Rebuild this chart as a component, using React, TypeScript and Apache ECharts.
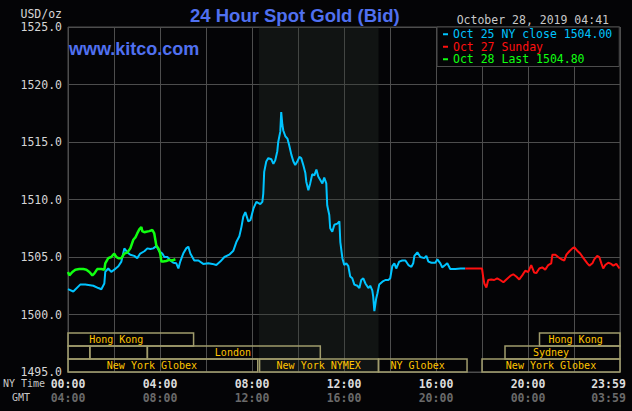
import React, { useEffect, useRef } from "react";
import * as echarts from "echarts";

// ---- axes ----
const yMin = 1495;
const yMax = 1525;
const yStep = 5;
const xMin = 0;
const xMax = 24;
const xStep = 2;
const nyTickLabels = ["00:00", "04:00", "08:00", "12:00", "16:00", "20:00", "23:59"];
const gmtTickLabels = ["04:00", "08:00", "12:00", "16:00", "20:00", "00:00", "03:59"];

// ---- texts ----
const titleText = "24 Hour Spot Gold (Bid)";
const siteText = "www.kitco.com";
const dateText = "October 28, 2019 04:41";
const unitText = "USD/oz";
const legendLabels = ["Oct 25 NY close 1504.00", "Oct 27 Sunday", "Oct 28 Last 1504.80"];

// ---- series: [hour (NY time), price] ----
const oct25Points = [
  [0.0, 1502.2], [0.23, 1502.0], [0.53, 1502.6], [0.75, 1502.6], [1.1, 1502.5], [1.32, 1502.3],
  [1.45, 1502.2], [1.58, 1502.7], [1.62, 1503.7], [1.75, 1504.0], [1.88, 1503.7], [2.01, 1503.9],
  [2.19, 1504.2], [2.32, 1504.6], [2.45, 1505.75], [2.58, 1505.4], [2.71, 1505.2], [2.88, 1505.1],
  [3.01, 1504.9], [3.14, 1505.3], [3.32, 1505.5], [3.45, 1505.75], [3.58, 1505.7], [3.71, 1505.75],
  [3.84, 1505.95], [3.97, 1505.5], [4.1, 1505.3], [4.19, 1505.0], [4.32, 1505.0], [4.45, 1504.7],
  [4.58, 1504.5], [4.71, 1504.45], [4.8, 1504.0], [4.88, 1504.6], [5.01, 1505.3], [5.14, 1505.75],
  [5.23, 1505.9], [5.32, 1505.3], [5.49, 1504.7], [5.67, 1504.7], [5.88, 1504.4], [6.1, 1504.45],
  [6.28, 1504.4], [6.45, 1504.3], [6.62, 1504.6], [6.8, 1505.0], [7.01, 1505.2], [7.19, 1505.55],
  [7.32, 1506.3], [7.45, 1506.8], [7.54, 1507.6], [7.62, 1508.5], [7.71, 1508.9], [7.84, 1508.1],
  [7.93, 1508.2], [8.06, 1509.2], [8.19, 1509.8], [8.36, 1509.6], [8.45, 1509.8], [8.49, 1510.5],
  [8.53, 1512.4], [8.62, 1513.3], [8.71, 1513.6], [8.84, 1513.5], [8.93, 1513.1], [9.01, 1513.4],
  [9.1, 1514.2], [9.14, 1515.0], [9.23, 1515.9], [9.27, 1517.6], [9.32, 1516.5], [9.36, 1516.0],
  [9.45, 1515.5], [9.54, 1515.3], [9.62, 1514.7], [9.71, 1513.9], [9.8, 1513.3], [9.88, 1513.0],
  [9.97, 1513.3], [10.06, 1513.7], [10.14, 1513.6], [10.23, 1513.0], [10.32, 1512.3], [10.36, 1511.55],
  [10.45, 1510.8], [10.53, 1511.4], [10.62, 1512.2], [10.71, 1512.1], [10.8, 1512.6], [10.88, 1512.0],
  [10.97, 1511.7], [11.06, 1511.4], [11.14, 1511.9], [11.23, 1511.4], [11.27, 1509.5], [11.36, 1508.65],
  [11.4, 1507.5], [11.49, 1507.2], [11.58, 1507.8], [11.71, 1507.9], [11.8, 1508.1], [11.84, 1506.3],
  [11.93, 1504.9], [12.01, 1504.3], [12.1, 1504.45], [12.19, 1504.2], [12.27, 1503.3], [12.36, 1503.15],
  [12.45, 1502.6], [12.58, 1502.5], [12.67, 1502.3], [12.75, 1503.0], [12.84, 1503.15], [12.93, 1502.7],
  [13.06, 1502.3], [13.14, 1502.5], [13.23, 1502.1], [13.27, 1501.55], [13.32, 1500.3], [13.4, 1501.4],
  [13.45, 1501.8], [13.53, 1502.6], [13.67, 1502.85], [13.8, 1503.0], [13.93, 1503.0], [14.01, 1503.15],
  [14.1, 1504.2], [14.19, 1504.45], [14.27, 1504.0], [14.4, 1504.6], [14.53, 1504.7], [14.67, 1504.7],
  [14.8, 1504.3], [14.93, 1504.15], [15.01, 1504.45], [15.06, 1505.1], [15.19, 1505.4], [15.32, 1505.0],
  [15.49, 1504.9], [15.58, 1505.1], [15.67, 1504.6], [15.8, 1504.5], [15.97, 1504.5], [16.06, 1504.8],
  [16.19, 1504.45], [16.27, 1504.1], [16.4, 1504.3], [16.49, 1504.45], [16.62, 1503.95], [16.84, 1503.95],
  [17.07, 1504.0], [17.27, 1504.0],
];

const oct27Points = [
  [17.27, 1504.0], [18.0, 1504.0], [18.05, 1503.3], [18.1, 1502.7], [18.19, 1502.35], [18.27, 1503.0],
  [18.4, 1503.05], [18.53, 1503.0], [18.66, 1503.15], [18.79, 1503.0], [18.93, 1502.8], [19.06, 1503.05],
  [19.23, 1503.35], [19.36, 1503.5], [19.49, 1503.3], [19.62, 1503.05], [19.75, 1503.4], [19.88, 1503.8],
  [20.01, 1503.7], [20.14, 1504.3], [20.27, 1503.65], [20.36, 1503.6], [20.49, 1504.0], [20.62, 1504.1],
  [20.75, 1503.9], [20.88, 1504.3], [21.01, 1504.45], [21.06, 1505.2], [21.19, 1505.2], [21.31, 1505.0],
  [21.45, 1504.8], [21.58, 1504.7], [21.67, 1505.2], [21.8, 1505.5], [21.93, 1505.75], [22.01, 1505.85],
  [22.14, 1505.55], [22.27, 1505.3], [22.41, 1504.9], [22.58, 1504.45], [22.67, 1504.25], [22.8, 1504.45],
  [22.88, 1504.8], [23.01, 1505.1], [23.1, 1505.0], [23.19, 1504.45], [23.27, 1504.0], [23.36, 1504.3],
  [23.49, 1504.5], [23.62, 1504.4], [23.71, 1504.25], [23.84, 1504.4], [23.98, 1504.0],
];

const oct28Points = [
  [0.0, 1503.7], [0.06, 1503.4], [0.19, 1503.7], [0.32, 1503.9], [0.49, 1503.95], [0.67, 1503.95],
  [0.8, 1503.9], [0.93, 1503.7], [1.06, 1503.4], [1.14, 1503.55], [1.27, 1503.95], [1.45, 1503.95],
  [1.58, 1503.9], [1.62, 1504.45], [1.75, 1504.9], [1.88, 1505.0], [2.01, 1505.3], [2.1, 1505.0],
  [2.19, 1504.9], [2.32, 1504.9], [2.45, 1505.3], [2.58, 1505.4], [2.71, 1505.75], [2.84, 1506.5],
  [2.93, 1506.7], [3.01, 1507.05], [3.1, 1507.4], [3.19, 1507.6], [3.23, 1507.25], [3.32, 1507.15],
  [3.4, 1507.2], [3.53, 1507.25], [3.67, 1507.35], [3.75, 1507.05], [3.84, 1506.0], [3.93, 1505.75],
  [4.01, 1505.3], [4.06, 1504.6], [4.14, 1504.6], [4.27, 1504.65], [4.4, 1504.75], [4.53, 1504.7],
  [4.67, 1504.8],
];

// ---- NYMEX floor hours (shaded) ----
const nymexHours = [8.3, 13.5];

// ---- trading session boxes ----
const sessionNames = ["New York Globex", "New York NYMEX", "NY Globex", "New York Globex", "", "", "London", "Sydney", "Hong Kong", "Hong Kong"];
const sessionStart = [0, 8.33, 13.5, 18, 0, 0.95, 3.45, 19, 0, 20.5];
const sessionEnd = [8.25, 13.5, 17.35, 24, 0.95, 3.45, 10.97, 24, 5.46, 24];
const sessionRow = [0, 0, 0, 0, 1, 1, 1, 1, 2, 2];
const sessionLabelAt = [3.65, 10.9, 15.2, 21.0, 0, 0, 7.17, 21.0, 2.1, 22.07];

const COLORS = ["#00C4FF", "#FF1010", "#10FF10"];
const MONO = "'DejaVu Sans Mono', 'Liberation Mono', monospace";
const SANS = "'Liberation Sans', Arial, sans-serif";

export default function App() {
  const ref = useRef<HTMLDivElement>(null);

  useEffect(() => {
    document.body.style.margin = "0";
    document.body.style.background = "#040406";
    if (!ref.current) return;
    const chart = echarts.init(ref.current, undefined, { renderer: "svg" });

    const tickIndex = (v: number) => Math.round(v / 4);

    const option: any = {
      animation: false,
      backgroundColor: "#040406",
      title: {
        text: titleText,
        left: 190,
        top: 5,
        padding: 0,
        textStyle: { color: "#5070F0", fontFamily: SANS, fontSize: 18.5, fontWeight: "bold", lineHeight: 20 },
      },
      legend: {
        left: 437,
        top: 27,
        orient: "vertical",
        padding: [1, 7, 1, 6],
        itemGap: 0,
        itemWidth: 5,
        itemHeight: 2,
        icon: "rect",
        selectedMode: false,
        backgroundColor: "#040406",
        borderColor: "#4d4d4d",
        borderWidth: 1,
        textStyle: { fontFamily: MONO, fontSize: 11.5, lineHeight: 12.5 },
        data: legendLabels.map((n, i) => ({ name: n, textStyle: { color: COLORS[i] } })),
      },
      grid: {
        left: 68,
        right: 12,
        top: 27,
        bottom: 39,
        show: true,
        containLabel: false,
        outerBoundsMode: "none",
        borderColor: "#4d4d4d",
        borderWidth: 1,
        backgroundColor: "transparent",
      },
      xAxis: [
        {
          type: "value",
          min: xMin,
          max: xMax,
          interval: xStep,
          axisLine: { show: false },
          axisTick: { show: false },
          splitLine: { show: true, lineStyle: { color: "#4d4d4d", width: 1 } },
          axisLabel: {
            margin: 5,
            showMaxLabel: true,
            showMinLabel: true,
            hideOverlap: false,
            formatter: (v: number) => {
              if (v % 4 !== 0) return "";
              const s = nyTickLabels[tickIndex(v)];
              return v === xMax ? "{last|" + s + "}" : "{n|" + s + "}";
            },
            rich: {
              n: { color: "#dcdcdc", fontFamily: MONO, fontSize: 11.5, fontWeight: "bold", lineHeight: 13 },
              last: { color: "#dcdcdc", fontFamily: MONO, fontSize: 11.5, fontWeight: "bold", lineHeight: 13, padding: [0, 23, 0, 0] },
            },
          },
        },
        {
          type: "value",
          position: "bottom",
          offset: 14,
          min: xMin,
          max: xMax,
          interval: xStep,
          axisLine: { show: false },
          axisTick: { show: false },
          splitLine: { show: false },
          axisLabel: {
            margin: 5,
            showMaxLabel: true,
            showMinLabel: true,
            hideOverlap: false,
            formatter: (v: number) => {
              if (v % 4 !== 0) return "";
              const s = gmtTickLabels[tickIndex(v)];
              return v === xMax ? "{last|" + s + "}" : "{n|" + s + "}";
            },
            rich: {
              n: { color: "#6a6a6a", fontFamily: MONO, fontSize: 11.5, fontWeight: "bold", lineHeight: 13 },
              last: { color: "#6a6a6a", fontFamily: MONO, fontSize: 11.5, fontWeight: "bold", lineHeight: 13, padding: [0, 23, 0, 0] },
            },
          },
        },
      ],
      yAxis: {
        type: "value",
        min: yMin,
        max: yMax,
        interval: yStep,
        axisLine: { show: false },
        axisTick: { show: false },
        splitLine: { show: true, lineStyle: { color: "#4d4d4d", width: 1 } },
        axisLabel: {
          margin: 6,
          color: "#d6d6d6",
          fontFamily: MONO,
          fontSize: 11.5,
          formatter: (v: number) => v.toFixed(1),
        },
      },
      graphic: [
        { type: "text", x: 62, y: 13.5, style: { text: unitText, fill: "#d6d6d6", font: "11.5px " + MONO, align: "right", verticalAlign: "middle" } },
        { type: "text", x: 69, y: 48.5, z: 10, style: { text: siteText, fill: "#5070F0", font: "bold 18px " + SANS, align: "left", verticalAlign: "middle" } },
        { type: "text", x: 609, y: 20, style: { text: dateText, fill: "#c8c8c8", font: "11.5px " + MONO, align: "right", verticalAlign: "middle" } },
        { type: "text", x: 3, y: 383.5, style: { text: "NY Time", fill: "#c8c8c8", font: "10px " + MONO, align: "left", verticalAlign: "middle" } },
        { type: "text", x: 12, y: 397.5, style: { text: "GMT", fill: "#c8c8c8", font: "10px " + MONO, align: "left", verticalAlign: "middle" } },
      ],
      series: [
        {
          name: legendLabels[0],
          type: "line",
          data: oct25Points,
          showSymbol: false,
          color: COLORS[0],
          lineStyle: { width: 2, color: COLORS[0] },
          z: 3,
          markArea: {
            silent: true,
            itemStyle: { color: "rgba(46,56,46,0.32)" },
            data: [[{ xAxis: nymexHours[0] }, { xAxis: nymexHours[1] }]],
          },
        },
        {
          name: legendLabels[1],
          type: "line",
          data: oct27Points,
          showSymbol: false,
          color: COLORS[1],
          lineStyle: { width: 2, color: COLORS[1] },
          z: 3,
        },
        {
          name: legendLabels[2],
          type: "line",
          data: oct28Points,
          showSymbol: false,
          color: COLORS[2],
          lineStyle: { width: 2.5, color: COLORS[2] },
          z: 4,
        },
        {
          name: "sessions",
          type: "custom",
          silent: true,
          clip: false,
          z: 5,
          encode: { x: [0, 1] },
          data: sessionNames.map((_, i) => [sessionStart[i], sessionEnd[i], sessionRow[i], sessionLabelAt[i]]),
          renderItem: (params: any, api: any) => {
            const i = params.dataIndex;
            const rowH = 13;
            const p0 = api.coord([api.value(0), yMin]);
            const p1 = api.coord([api.value(1), yMin]);
            const pl = api.coord([api.value(3), yMin]);
            const yb = p0[1] - api.value(2) * rowH;
            const children: any[] = [
              {
                type: "rect",
                shape: { x: p0[0], y: yb - rowH, width: p1[0] - p0[0], height: rowH },
                style: { fill: "none", stroke: "#A09C6C", lineWidth: 1.5 },
              },
            ];
            if (sessionNames[i]) {
              children.push({
                type: "text",
                x: pl[0],
                y: yb - rowH / 2,
                style: { text: sessionNames[i], fill: "#FFC400", font: "10px " + MONO, align: "center", verticalAlign: "middle" },
              });
            }
            return { type: "group", children };
          },
        },
      ],
    };

    chart.setOption(option);
    return () => chart.dispose();
  }, []);

  return <div ref={ref} style={{ width: 632, height: 411 }} />;
}
